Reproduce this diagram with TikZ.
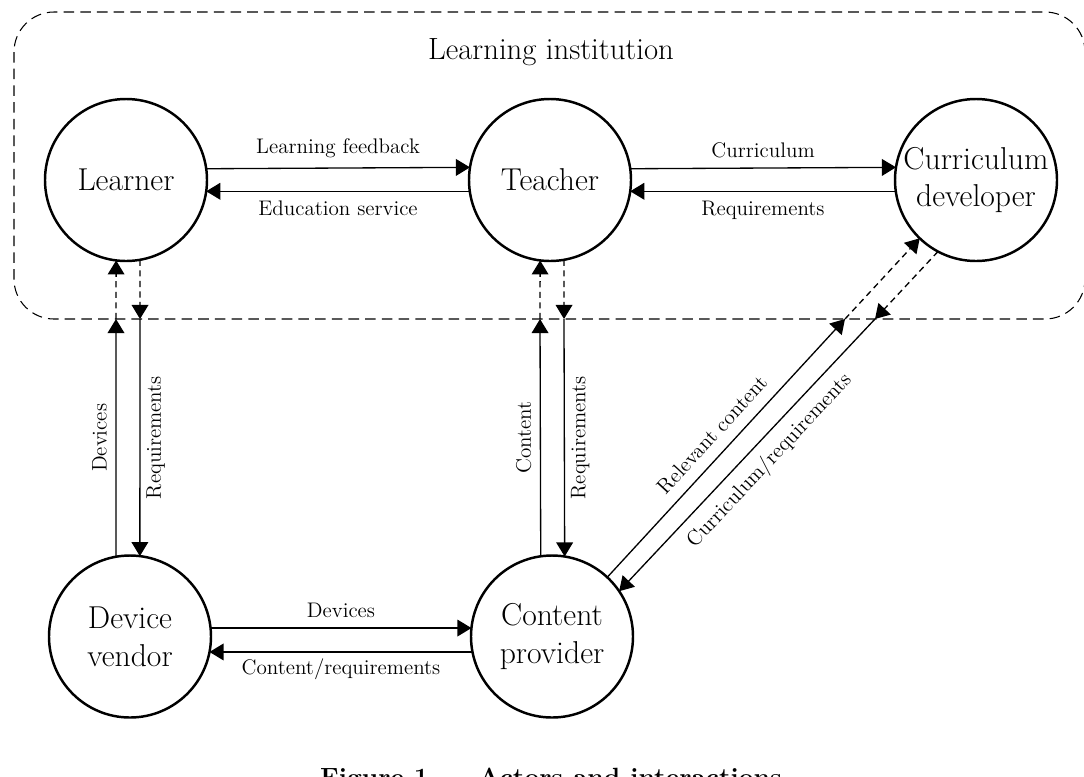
\documentclass[tikz,border=0pt]{standalone}
\usepackage{amsmath}
\usepackage{tikz}
\usetikzlibrary{arrows.meta}
\tikzstyle{actor} = [draw, circle, line width=1.4pt, minimum size=3.24cm, inner sep=0pt, outer sep=0pt, align=center, font=\fontsize{18}{21.5}\selectfont]
\tikzstyle{arrow} = [line width=0.75pt, -{Triangle[length=8pt,width=9.5pt]}]
\tikzstyle{dasharrow} = [arrow, dash pattern=on 3.5pt off 2.5pt]
\tikzstyle{lbl} = [font=\fontsize{12}{14}\selectfont]

\begin{document}
\begin{tikzpicture}
            \useasboundingbox (0,0) rectangle (21.68,-15.52);
            % learning institution
            \draw[line width=0.6pt, dash pattern=on 6pt off 3.5pt, rounded corners=0.8cm] (0.28,-0.24) rectangle (21.7,-6.38);
            \node[font=\fontsize{17.5}{20}\selectfont] (inst) at (11.02,-1.04) {Learning institution};
            % actors
            \node[actor] (ln) at (2.52,-3.6) {Learner};
            \node[actor] (tc) at (11.0,-3.6) {Teacher};
            \node[actor] (cd) at (19.52,-3.6) {Curriculum\\developer};
            \node[actor] (dv) at (2.6,-12.73) {Device\\vendor};
            \node[actor] (cp) at (11.04,-12.73) {Content\\provider};
            % crossings of the boundary
            \coordinate (b1) at (2.32,-6.38);
            \coordinate (b2) at (2.8,-6.38);
            \coordinate (b3) at (10.8,-6.38);
            \coordinate (b4) at (11.28,-6.38);
            \coordinate (b5) at (16.9,-6.38);
            \coordinate (b6) at (17.5,-6.38);
            % inside the institution
            \draw[arrow] (ln.8.5) -- node[lbl, above=2pt] {Learning feedback} (tc.171.5);
            \draw[arrow] (tc.188.5) -- node[lbl, below=2pt] {Education service} (ln.-8.5);
            \draw[arrow] (tc.8.5) -- node[lbl, above=2pt] {Curriculum} (cd.171.5);
            \draw[arrow] (cd.188.5) -- node[lbl, below=2pt] {Requirements} (tc.-8.5);
            % learner and device vendor
            \draw[arrow] (dv.100) -- node[lbl, rotate=90, anchor=south, yshift=1.5pt] {Devices} (b1);
            \draw[dasharrow] (b1) -- (ln.263);
            \draw[dasharrow] (ln.280) -- (b2);
            \draw[arrow] (b2) -- node[lbl, rotate=90, anchor=north] {Requirements} (dv.83);
            % teacher and content provider
            \draw[arrow] (cp.98.5) -- node[lbl, rotate=90, anchor=south, yshift=1.5pt] {Content} (b3);
            \draw[dasharrow] (b3) -- (tc.263);
            \draw[dasharrow] (tc.280) -- (b4);
            \draw[arrow] (b4) -- node[lbl, rotate=90, anchor=north] {Requirements} (cp.81.5);
            % curriculum developer and content provider
            \draw[arrow] (cp.47.3) -- node[lbl, sloped, above=3pt] {Relevant content} (b5);
            \draw[dasharrow] (b5) -- (cd.226.5);
            \draw[dasharrow] (cd.242.5) -- (b6);
            \draw[arrow] (b6) -- node[lbl, sloped, below=2pt, pos=0.47] {Curriculum/requirements} (cp.34.2);
            % device vendor and content provider
            \draw[arrow] (dv.6) -- node[lbl, above=2pt] {Devices} (cp.174);
            \draw[arrow] (cp.191.4) -- node[lbl, below] {Content/requirements} (dv.-11.4);
            % caption
            \node[font=\fontsize{15}{18}\selectfont\bfseries, anchor=base] (cap) at (11.02,-15.72) {Figure 1 — Actors and interactions};
        \end{tikzpicture}
\end{document}
